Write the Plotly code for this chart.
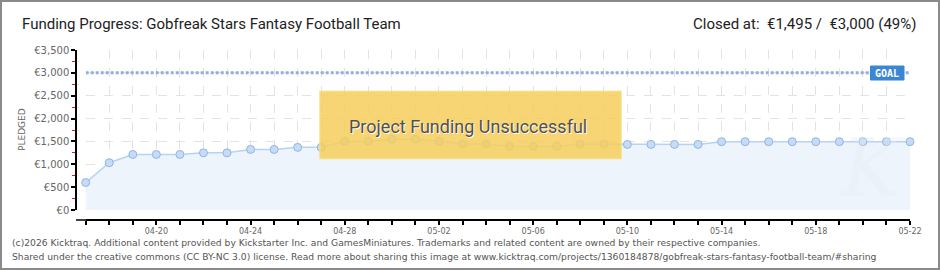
import math
import pandas as pd
import plotly.graph_objects as go

# ---- data ----
dates = pd.date_range("2026-04-17", "2026-05-22", freq="D")
pledged = [600, 1035, 1215, 1215, 1215, 1250, 1250, 1325, 1325, 1370, 1370, 1505, 1505, 1550,
           1550, 1505, 1445, 1445, 1395, 1395, 1395, 1445, 1445, 1435, 1435, 1435, 1435, 1495,
           1495, 1495, 1495, 1495, 1495, 1495, 1495, 1495]
goal = 3000
closed_at = 1495
y_ticks = [0, 500, 1000, 1500, 2000, 2500, 3000, 3500]
y_ticktext = ["€0", "€500", "€1,000", "€1,500", "€2,000", "€2,500", "€3,000", "€3,500"]
x_ticktext = [d.strftime("%m-%d") if (i - 3) % 4 == 0 else "" for i, d in enumerate(dates)]

title = "Funding Progress: Gobfreak Stars Fantasy Football Team"
status = f"Closed at:  €{closed_at:,} /  €{goal:,} ({math.floor(100*closed_at/goal)}%)"
banner = "Project Funding Unsuccessful"
footer1 = ("(c)2026 Kicktraq. Additional content provided by Kickstarter Inc. and GamesMiniatures. "
           "Trademarks and related content are owned by their respective companies.")
footer2 = ("Shared under the creative commons (CC BY-NC 3.0) license. Read more about sharing this image at "
           "www.kicktraq.com/projects/1360184878/gobfreak-stars-fantasy-football-team/#sharing")

W, H = 940, 270
def px(x): return x / W
def py(y): return 1 - y / H

TFONT = "Roboto"
fig = go.Figure()

fig.add_trace(go.Scatter(
    x=[dates[0], dates[-1]], y=[goal, goal], mode="lines",
    line=dict(color="#8db1dd", width=3, dash="3px,2px"),
    hoverinfo="skip", showlegend=False, cliponaxis=False))

fig.add_trace(go.Scatter(
    x=dates, y=pledged, mode="lines+markers", fill="tozeroy",
    fillcolor="#eef4fc",
    line=dict(color="#b7d3f2", width=1.5),
    marker=dict(size=8, color="#c4dcf7", line=dict(color="#94b5dc", width=1)),
    showlegend=False, cliponaxis=False))

fig.update_layout(
    width=W, height=H,
    margin=dict(l=0, r=0, t=0, b=0, pad=0, autoexpand=False),
    paper_bgcolor="white", plot_bgcolor="white",
    xaxis=dict(
        domain=[px(85.7), px(910)],
        range=[dates[0], dates[-1]],
        anchor="free", position=py(220),
        tickvals=list(dates), ticktext=x_ticktext,
        ticks="outside", ticklen=4, tickwidth=1.5, tickcolor="black",
        showline=True, linecolor="black", linewidth=1.5,
        showgrid=True, gridcolor="#e3e3e3", griddash="dash", gridwidth=1,
        tickfont=dict(family="DejaVu Sans", size=8, color="#666"),
        zeroline=False, fixedrange=True, automargin=False,
    ),
    yaxis=dict(
        domain=[py(210), py(50)],
        range=[0, 3500],
        anchor="free", position=px(76),
        tickvals=y_ticks, ticktext=y_ticktext,
        ticks="outside", ticklen=4, tickwidth=1.5, tickcolor="black",
        showline=True, linecolor="black", linewidth=1.5,
        showgrid=True, gridcolor="#e3e3e3", griddash="dash", gridwidth=1,
        tickfont=dict(family="DejaVu Sans", size=10, color="#666"),
        minor=dict(dtick=250, tick0=250, ticks="outside", ticklen=3, tickwidth=1, tickcolor="#e02020", showgrid=False),
        zeroline=False, fixedrange=True, automargin=False,
    ),
)

shapes = [
    dict(type="rect", xref="paper", yref="paper", x0=px(1), x1=px(939), y0=py(269), y1=py(1),
         line=dict(color="#8a8a8a", width=2), fillcolor="rgba(0,0,0,0)"),
    dict(type="line", xref="paper", yref="paper", x0=px(76), x1=px(86), y0=py(220), y1=py(220),
         line=dict(color="black", width=1.5)),
    dict(type="rect", xref="paper", yref="paper", x0=px(320), x1=px(621), y0=py(158.5), y1=py(91.5),
         line=dict(color="rgba(246,220,120,0.9)", width=1.5), fillcolor="rgba(246,206,92,0.85)", layer="above"),
    dict(type="rect", xref="paper", yref="paper", x0=px(870.5), x1=px(904), y0=py(80), y1=py(66),
         line=dict(color="#3a86d4", width=1), fillcolor="#3a86d4", layer="above"),
]
fig.update_layout(shapes=shapes)

ann = [
    dict(text=title, x=px(20), y=py(24), xanchor="left", yanchor="middle",
         font=dict(family=TFONT, size=15, color="#222")),
    dict(text=status, x=px(918), y=py(24), xanchor="right", yanchor="middle",
         font=dict(family=TFONT, size=15, color="#222")),
    dict(text="PLEDGED", x=px(22), y=py(130), xanchor="center", yanchor="middle", textangle=-90,
         font=dict(family="DejaVu Sans", size=9, color="#666")),
    dict(text=banner, x=px(468), y=py(126), xanchor="center", yanchor="middle",
         font=dict(family=TFONT, size=18, color="#505050", shadow="1px 1px 0px white")),
    dict(text="GOAL", x=px(887), y=py(73), xanchor="center", yanchor="middle",
         font=dict(family="DejaVu Sans Mono", size=10, color="white", weight="bold")),
    dict(text="<i>K</i>", x=px(872), y=py(168), xanchor="center", yanchor="middle",
         font=dict(family="DejaVu Serif", size=80, color="rgba(226,234,244,0.35)")),
    dict(text=footer1, x=px(10), y=py(242), xanchor="left", yanchor="middle",
         font=dict(family="DejaVu Sans", size=9.2, color="#555")),
    dict(text=footer2, x=px(10), y=py(256), xanchor="left", yanchor="middle",
         font=dict(family="DejaVu Sans", size=9.2, color="#555")),
]
for a in ann:
    a.update(xref="paper", yref="paper", showarrow=False)
fig.update_layout(annotations=ann)

fig.write_html("out.html")
